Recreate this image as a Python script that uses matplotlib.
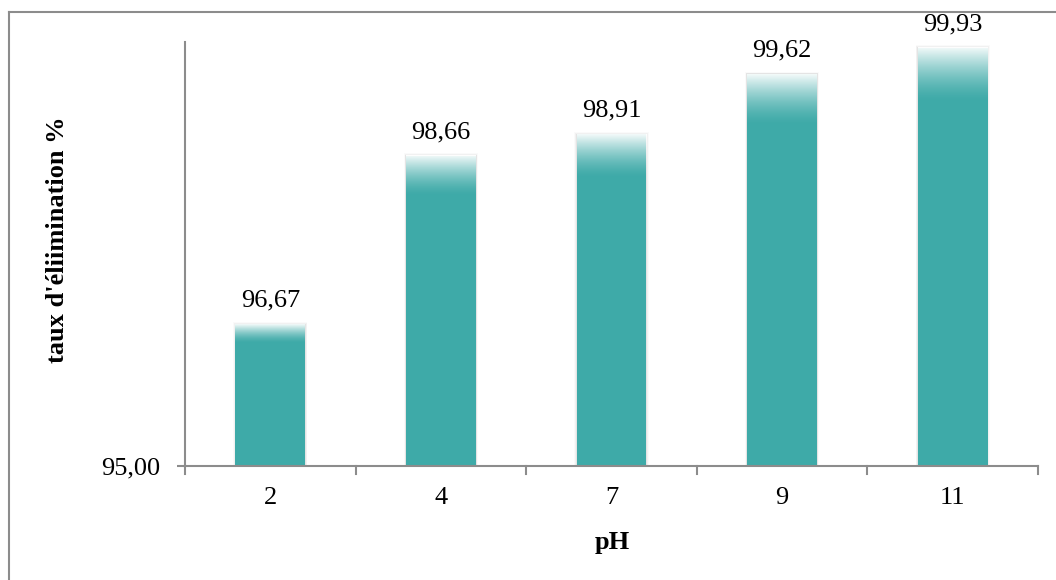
import numpy as np
import matplotlib.pyplot as plt
from matplotlib.patches import Rectangle
from matplotlib.lines import Line2D

# pH values and removal rates (%)
categories = ["2", "4", "7", "9", "11"]
values = [96.67, 98.66, 98.91, 99.62, 99.93]
value_labels = ["96,67", "98,66", "98,91", "99,62", "99,93"]

ymin, ymax = 95.0, 100.0
teal = "#3eaaa8"
axis_gray = "#8c8c8c"
serif = "Liberation Serif"

fig = plt.figure(figsize=(10.56, 5.8), dpi=100)
ax = fig.add_axes([185 / 1056, 1 - 466 / 580, (1038 - 185) / 1056, (466 - 42) / 580])

x = np.arange(len(categories))
width = 0.41

# soft shadow behind each bar
for xi, v in zip(x, values):
    for k, a in enumerate([0.05, 0.035, 0.02]):
        ax.add_patch(Rectangle((xi - width / 2 - 0.004 * (k + 1), ymin),
                               width + 0.008 * (k + 1), v - ymin + 0.01 * (k + 1),
                               facecolor="black", alpha=a, edgecolor="none", zorder=1))

bars = ax.bar(x, [v - ymin for v in values], width=width, bottom=ymin,
              color=teal, edgecolor="none", zorder=2)

# white sheen fading down from the top of each bar
grad = np.linspace(0, 1, 256).reshape(-1, 1)
rgba = np.zeros((256, 1, 4))
rgba[..., :3] = 1.0
rgba[..., 3] = (grad ** 1.5) * 0.95
for xi, v in zip(x, values):
    h = 0.13 * (v - ymin)
    ax.imshow(rgba, extent=(xi - width / 2, xi + width / 2, v - h, v),
              origin="lower", aspect="auto", interpolation="bicubic", zorder=3)

for xi, v, lab in zip(x, values, value_labels):
    ax.annotate(lab, (xi, v), xytext=(0, 9), textcoords="offset points",
                ha="center", va="bottom", fontsize=19, family=serif, color="black")

ax.set_xlim(-0.5, len(categories) - 0.5)
ax.set_ylim(ymin, ymax)

ax.set_yticks([ymin])
ax.set_yticklabels(["95,00"], fontsize=19, family=serif)
ax.set_xticks(x)
ax.set_xticklabels(categories, fontsize=19, family=serif)
ax.tick_params(axis="x", length=0, pad=15)
ax.tick_params(axis="y", length=6, width=1.5, color=axis_gray, direction="out", pad=12)

# category separator ticks below the baseline
for b in np.arange(-0.5, len(categories), 1.0):
    ax.add_line(Line2D([b, b], [0, -0.018], transform=ax.get_xaxis_transform(),
                       color=axis_gray, lw=1.5, clip_on=False))

for s in ["top", "right"]:
    ax.spines[s].set_visible(False)
for s in ["left", "bottom"]:
    ax.spines[s].set_color(axis_gray)
    ax.spines[s].set_linewidth(1.5)

# axis titles
fig.text(612 / 1056, 1 - 543 / 580, "pH", ha="center", va="center",
         fontsize=19, fontweight="bold", family=serif)
fig.text(58 / 1056, 1 - 240 / 580, "taux d'éliimination %", ha="center", va="center",
         rotation=90, fontsize=19, fontweight="bold", family=serif)

# outer frame of the chart area
fig.add_artist(Line2D([9 / 1056, 9 / 1056], [0, 1 - 12 / 580], transform=fig.transFigure,
                      color=axis_gray, lw=1.5))
fig.add_artist(Line2D([9 / 1056, 1], [1 - 12 / 580, 1 - 12 / 580], transform=fig.transFigure,
                      color=axis_gray, lw=1.5))

fig.savefig("out.png", dpi=100)
